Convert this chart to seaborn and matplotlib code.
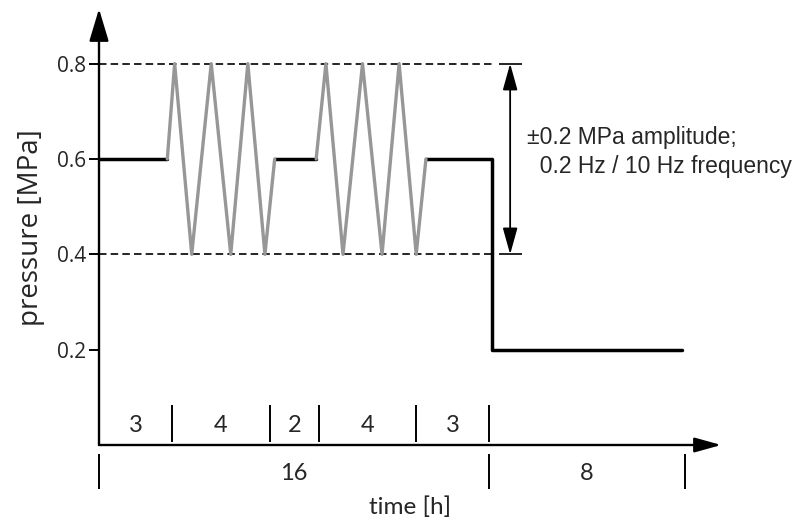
import numpy as np
import pandas as pd
import seaborn as sns
import matplotlib.pyplot as plt

# static hold phases (black) and cyclic phases (grey), time in h, pressure in MPa
hold1_t = [0, 2.8]
hold1_p = [0.6, 0.6]
cyc1_t = [2.8, 3.1, 3.8, 4.6, 5.4, 6.1, 6.8, 7.2]
cyc1_p = [0.6, 0.8, 0.4, 0.8, 0.4, 0.8, 0.4, 0.6]
hold2_t = [7.2, 8.9]
hold2_p = [0.6, 0.6]
cyc2_t = [8.9, 9.3, 10.0, 10.8, 11.6, 12.3, 13.0, 13.4]
cyc2_p = [0.6, 0.8, 0.4, 0.8, 0.4, 0.8, 0.4, 0.6]
hold3_t = [13.4, 16.1, 16.1, 23.9]
hold3_p = [0.6, 0.6, 0.2, 0.2]

phase_hours = [3, 4, 2, 4, 3]
block_hours = [16, 8]
yticks = [0.2, 0.4, 0.6, 0.8]
amp_levels = [0.8, 0.4]
note = "±0.2 MPa amplitude;\n  0.2 Hz / 10 Hz frequency"

sns.set_style("white")
plt.rcParams['font.family'] = ['Liberation Sans', 'DejaVu Sans']

fig = plt.figure(figsize=(8.04, 5.23), dpi=100)
ax = fig.add_axes([99/804, 78/523, 640/804, 443/523])
ax.set_xlim(0, 640/24.4)
ax.set_ylim(0, 443/476.7)
for s in ax.spines.values():
    s.set_visible(False)

# pressure profile
for t, p in [(hold1_t, hold1_p), (hold2_t, hold2_p), (hold3_t, hold3_p)]:
    sns.lineplot(x=t, y=p, estimator=None, sort=False, color='black', lw=2.5, ax=ax)
for t, p in [(cyc1_t, cyc1_p), (cyc2_t, cyc2_p)]:
    sns.lineplot(x=t, y=p, estimator=None, sort=False, color='#979797', lw=2.4, ax=ax)

# amplitude bounds + dimension arrow
ax.hlines(amp_levels, 0, 16.25, colors='black', lw=1.2, linestyles=(0, (4.5, 2.5)), zorder=1)
ax.hlines(amp_levels, 16.4, 17.35, colors='black', lw=1.2)
ax.annotate('', xy=(16.85, 0.8), xytext=(16.85, 0.4),
            arrowprops=dict(arrowstyle='<|-|>,head_length=0.9,head_width=0.25', mutation_scale=18,
                            lw=1.3, color='black', shrinkA=0, shrinkB=0))
ax.text(17.55, 0.615, note, fontsize=16.5, va='center', ha='left', linespacing=1.3)

# axes with arrow heads
ax.annotate('', xy=(0, 0.915), xytext=(0, 0),
            arrowprops=dict(arrowstyle='-|>,head_length=1.0,head_width=0.3', mutation_scale=20,
                            lw=1.7, color='black', shrinkA=0, shrinkB=0), annotation_clip=False)
ax.annotate('', xy=(25.5, 0), xytext=(0, 0),
            arrowprops=dict(arrowstyle='-|>,head_length=0.9,head_width=0.25', mutation_scale=18,
                            lw=1.7, color='black', shrinkA=0, shrinkB=0), annotation_clip=False)

ax.set_yticks(yticks)
ax.set_yticklabels([f'{v:.1f}' for v in yticks], family='Open Sans')
ax.set_xticks([])
ax.tick_params(axis='y', left=True, direction='out', length=7, width=1.4, pad=2,
               labelsize=15, color='black')
ax.set_ylabel('pressure [MPa]', fontsize=20, family='Open Sans')
ax.yaxis.set_label_coords(-0.085, 0.49)

# time segments under the axis
bounds = np.cumsum(phase_hours)
ax.vlines(bounds, 0.006, 0.084, colors='black', lw=1.4, clip_on=False)
mids = bounds - np.array(phase_hours) / 2
for m, h in zip(mids, phase_hours):
    ax.text(m, 0.04, str(h), fontsize=17, ha='center', va='center', family='Lato')

bbounds = np.concatenate([[0], np.cumsum(block_hours)])
ax.vlines(bbounds, -0.092, -0.019, colors='black', lw=1.4, clip_on=False)
bmids = bbounds[1:] - np.array(block_hours) / 2
for m, h in zip(bmids, block_hours):
    ax.text(m, -0.059, str(h), fontsize=17, ha='center', va='center', family='Lato')

ax.set_xlabel('time [h]', fontsize=17.5, family='Lato')
ax.xaxis.set_label_coords(0.486, -0.116)

fig.savefig('out.png', dpi=100)
